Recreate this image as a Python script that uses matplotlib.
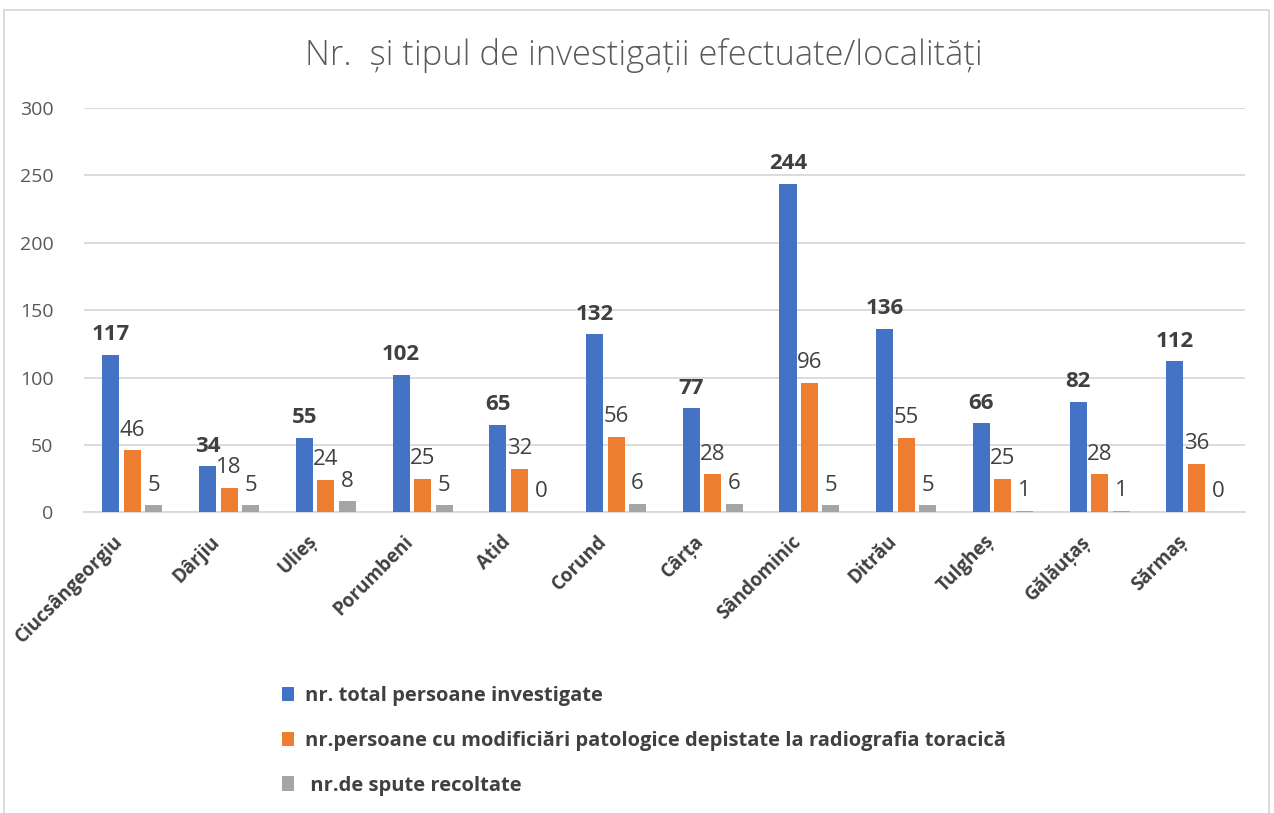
import matplotlib
matplotlib.use("Agg")
import matplotlib.pyplot as plt
from matplotlib.patches import Rectangle, Patch
from matplotlib.transforms import ScaledTranslation
import numpy as np

categories = ["Ciucsângeorgiu", "Dârjiu", "Ulieș", "Porumbeni", "Atid", "Corund",
              "Cârța", "Sândominic", "Ditrău", "Tulgheș", "Gălăuțaș", "Sărmaș"]
total = [117, 34, 55, 102, 65, 132, 77, 244, 136, 66, 82, 112]
patologice = [46, 18, 24, 25, 32, 56, 28, 96, 55, 25, 28, 36]
spute = [5, 5, 8, 5, 0, 6, 6, 5, 5, 1, 1, 0]
series_names = ["nr. total persoane investigate",
                "nr.persoane cu modificiări patologice depistate la radiografia toracică",
                " nr.de spute recoltate"]
colors = ["#4472C4", "#ED7D31", "#A5A5A5"]
title = "Nr.  și tipul de investigații efectuate/localități"

plt.rcParams['font.family'] = ['Open Sans', 'DejaVu Sans']

fig = plt.figure(figsize=(12.74, 8.13), dpi=100)
ax = fig.add_axes([0.066, 0.370, 0.911, 0.497])

x = np.arange(len(categories))
w = 0.176
step = 0.222
series = [total, patologice, spute]
for i, (vals, col) in enumerate(zip(series, colors)):
    pos = x + (i - 1) * step
    ax.bar(pos, vals, width=w, color=col, zorder=3)
    for xp, v in zip(pos, vals):
        ax.annotate(str(v), (xp, v), xytext=(0, 7), textcoords='offset points',
                    ha='center', va='bottom', fontsize=16,
                    fontweight='bold' if i == 0 else 'normal',
                    color='#404040', zorder=4)

ax.set_xlim(-0.5, len(categories) - 0.5)
ax.set_ylim(0, 300)
ax.set_yticks(range(0, 301, 50))
ax.yaxis.grid(True, color='#d9d9d9', linewidth=1.3, zorder=0)
ax.set_axisbelow(True)
for s in ['top', 'right', 'left']:
    ax.spines[s].set_visible(False)
ax.spines['bottom'].set_color('#d9d9d9')
ax.spines['bottom'].set_linewidth(1.3)
ax.tick_params(axis='y', length=0, labelsize=14, labelcolor='#595959', pad=22)
ax.tick_params(axis='x', length=0, pad=14)
ax.set_xticks(x)
ax.set_xticklabels(categories, rotation=45, ha='right', rotation_mode='anchor',
                   fontsize=13.5, fontweight='bold', color='#404040')
shift = ScaledTranslation(-19 / 100, 0, fig.dpi_scale_trans)
for lbl in ax.get_xticklabels():
    lbl.set_transform(lbl.get_transform() + shift)

fig.text(0.505, 0.932, title, ha='center', va='center', fontsize=24.8,
         color='#595959', fontweight='light')

handles = [Patch(facecolor=c) for c in colors]
leg = fig.legend(handles, series_names, loc='upper left',
                 bbox_to_anchor=(0.207, 0.178), frameon=False,
                 prop={'size': 14.5, 'weight': 'bold'}, labelcolor='#404040',
                 handlelength=0.6, handleheight=0.7, handletextpad=0.55,
                 labelspacing=1.22)

fig.patches.append(Rectangle((0.003, -0.01), 0.993, 0.998, transform=fig.transFigure,
                             fill=False, edgecolor='#d9d9d9', linewidth=1.3))

fig.savefig("out.png", dpi=100, facecolor='white')
